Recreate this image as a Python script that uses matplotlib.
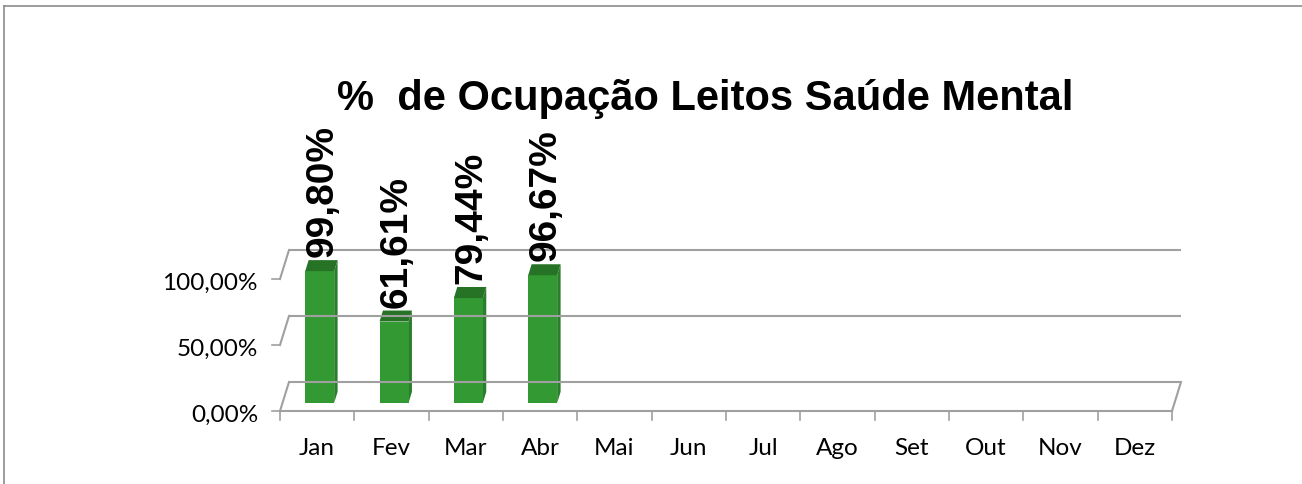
import matplotlib
matplotlib.use("Agg")
import matplotlib.pyplot as plt
from matplotlib.patches import Polygon

# data
meses = ["Jan", "Fev", "Mar", "Abr", "Mai", "Jun", "Jul", "Ago", "Set", "Out", "Nov", "Dez"]
ocupacao = [99.80, 61.61, 79.44, 96.67]
rotulos = ["99,80%", "61,61%", "79,44%", "96,67%"]
yticks = [0, 50, 100]
ytick_labels = ["0,00%", "50,00%", "100,00%"]

W, H = 1302, 485
fig = plt.figure(figsize=(W / 100, H / 100), dpi=100)

# plot area (front plane) in pixels
x0_px, x1_px = 280, 1172
y0_px, y1_px = 412, 280
ax = fig.add_axes([x0_px / W, 1 - y0_px / H, (x1_px - x0_px) / W, (y0_px - y1_px) / H])
ax.set_xlim(0, 12)
ax.set_ylim(0, 100)
ax.axis("off")

px_x = 12 / (x1_px - x0_px)
px_y = 100 / (y0_px - y1_px)
DX = 9 * px_x     # depth shift
DY = 29 * px_y

grid_c = "#a0a0a0"
lw = 1.5

# back wall gridlines + left wall diagonals
for v, lab in zip(yticks, ytick_labels):
    ax.plot([DX, 12 + DX], [v + DY, v + DY], color=grid_c, lw=lw, clip_on=False, solid_capstyle="butt")
    ax.plot([0, DX], [v, v + DY], color=grid_c, lw=lw, clip_on=False)
    ax.plot([-8 * px_x, 0], [v, v], color=grid_c, lw=1.2, clip_on=False)
    ax.text(-22 * px_x, v - 3 * px_y, lab, ha="right", va="center",
            fontsize=17.5, family="Lato", clip_on=False)

# floor front edge and right diagonal
ax.plot([0, 12], [0, 0], color=grid_c, lw=lw, clip_on=False)
ax.plot([12, 12 + DX], [0, DY], color=grid_c, lw=lw, clip_on=False)

# category ticks and labels
for i in range(13):
    ax.plot([i, i], [0, -9 * px_y], color=grid_c, lw=1.2, clip_on=False)
for i, m in enumerate(meses):
    ax.text(i + 0.5, -37 * px_y, m, ha="center", va="center", fontsize=17.5, family="Lato", clip_on=False)

# 3d-ish bars
d0, d1 = 0.28, 0.66
hw = 0.195
for i, v in enumerate(ocupacao):
    cx = i + 0.5
    bx, by = d0 * DX, d0 * DY
    tx, ty = d1 * DX, d1 * DY
    l, r = cx - hw + bx, cx + hw + bx
    front = Polygon([(l, by), (r, by), (r, by + v), (l, by + v)], closed=True,
                    facecolor="#339933", edgecolor="none", clip_on=False)
    side = Polygon([(r, by), (r + tx - bx, ty), (r + tx - bx, ty + v), (r, by + v)], closed=True,
                   facecolor="#2a7d2a", edgecolor="none", clip_on=False)
    top = Polygon([(l, by + v), (r, by + v), (r + tx - bx, ty + v), (l + tx - bx, ty + v)], closed=True,
                  facecolor="#267326", edgecolor="none", clip_on=False)
    for p in (side, front, top):
        ax.add_patch(p)
    ax.text(cx + bx + 0.04, ty + v + 4 * px_y, rotulos[i], rotation=90, ha="center", va="bottom",
            fontsize=28, fontweight="bold", family="Liberation Sans", clip_on=False)

# title
fig.text(705 / W, 1 - 99 / H, "%  de Ocupação Leitos Saúde Mental", ha="center", va="center",
         fontsize=30, fontweight="bold", family="Liberation Sans")

# chart frame (top and left)
fig.add_artist(plt.Line2D([4 / W, 1], [1 - 7 / H, 1 - 7 / H], color="#8c8c8c", lw=1.2))
fig.add_artist(plt.Line2D([4 / W, 4 / W], [0, 1 - 7 / H], color="#8c8c8c", lw=1.2))

fig.savefig("out.png", dpi=100)
